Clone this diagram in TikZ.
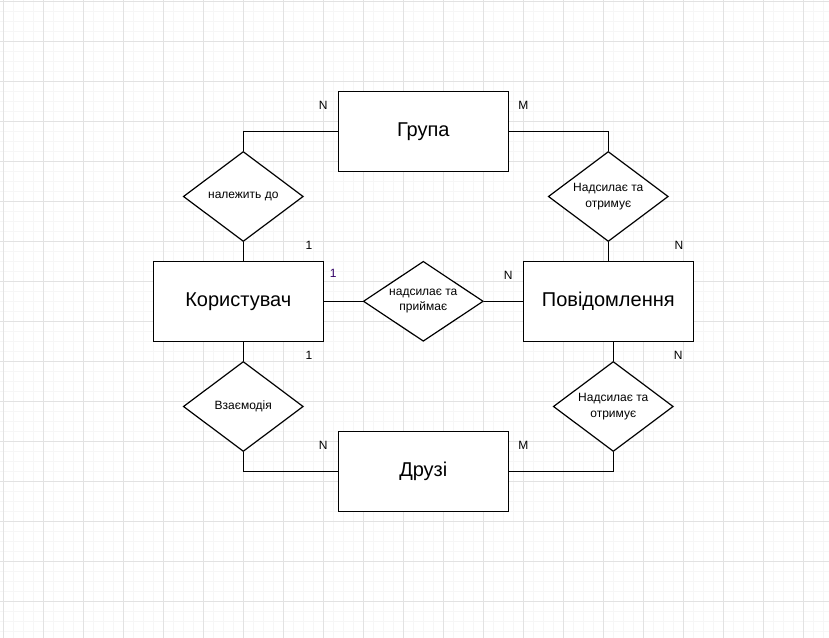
\documentclass[tikz,border=0pt]{standalone}
\usepackage{fontspec}
\setmainfont{Liberation Sans}
\usetikzlibrary{positioning,shapes,shapes.geometric}

\definecolor{minorgray}{HTML}{F6F6F6}
\definecolor{majorgray}{HTML}{E2E2E2}
\definecolor{onepurple}{HTML}{330066}

\tikzset{
  entity/.style={draw, line width=0.9pt, fill=white, minimum width=127.5pt, minimum height=60pt, inner sep=0pt, font=\fontsize{15}{18}\selectfont},
  relation/.style={draw, diamond, line width=0.9pt, fill=white, minimum width=90pt, minimum height=67.5pt, inner sep=0pt},
  reltext/.style={inner sep=0pt, align=center, font=\fontsize{9}{11.5}\selectfont},
  link/.style={line width=0.9pt},
  card/.style={inner sep=0pt, font=\fontsize{9}{11}\selectfont}
}

\begin{document}
\begin{tikzpicture}[x=0.75pt, y=-0.75pt]
\useasboundingbox (0,0) rectangle (829,638);
\fill[white] (0,0) rectangle (829,638);
% grid
\foreach \i in {0,...,82} \draw[minorgray, line width=0.75pt] ({3.3+10*\i},0) -- ({3.3+10*\i},638);
\foreach \i in {0,...,63} \draw[minorgray, line width=0.75pt] (0,{1.7+10*\i}) -- (829,{1.7+10*\i});
\foreach \i in {0,...,20} \draw[majorgray, line width=0.75pt] ({3.3+40*\i},0) -- ({3.3+40*\i},638);
\foreach \i in {0,...,15} \draw[majorgray, line width=0.75pt] (0,{1.7+40*\i}) -- (829,{1.7+40*\i});

% entities
\node[entity] (grupa) at (423.3,131.3) {Група};
\node[entity] (korystuvach) at (238.3,301.3) {Користувач};
\node[entity] (povidomlennia) at (608.3,301.3) {Повідомлення};
\node[entity] (druzi) at (423.3,471.3) {Друзі};

% relations
\node[relation, label={[reltext]center:належить до}] (nalezhyt) at (243.3,196.5) {};
\node[relation, minimum height=60pt, label={[reltext]center:надсилає та\\приймає}] (nadsylaie) at (423.3,301.3) {};
\node[relation, label={[reltext]center:Надсилає та\\отримує}] (otrymuieTop) at (608.3,196.5) {};
\node[relation, label={[reltext]center:Надсилає та\\отримує}] (otrymuieBot) at (613.3,406.5) {};
\node[relation, label={[reltext]center:Взаємодія}] (vzaiemodiia) at (243.3,406.5) {};

% links
\draw[link] (grupa.west) -| (nalezhyt.north);
\draw[link] (nalezhyt.south) -- (nalezhyt.south |- korystuvach.north);
\draw[link] (grupa.east) -| (otrymuieTop.north);
\draw[link] (otrymuieTop.south) -- (povidomlennia.north);
\draw[link] (korystuvach.east) -- (nadsylaie.west);
\draw[link] (nadsylaie.east) -- (povidomlennia.west);
\draw[link] (vzaiemodiia.north |- korystuvach.south) -- (vzaiemodiia.north);
\draw[link] (vzaiemodiia.south) |- (druzi.west);
\draw[link] (otrymuieBot.north |- povidomlennia.south) -- (otrymuieBot.north);
\draw[link] (otrymuieBot.south) |- (druzi.east);

% cardinalities
\node[card] (cGrupaN) at (323.3,105.7) {N};
\node[card] (cGrupaM) at (523.3,105.7) {M};
\node[card] (cKorTop) at (309,245.7) {1};
\node[card, text=onepurple] (cKorRight) at (333.3,273.3) {1};
\node[card] (cPovLeft) at (508.3,275) {N};
\node[card] (cPovTop) at (679,245.7) {N};
\node[card] (cKorBot) at (309,355.7) {1};
\node[card] (cPovBot) at (678.3,355.7) {N};
\node[card] (cDruziN) at (323.3,445.7) {N};
\node[card] (cDruziM) at (523.3,445.7) {M};
\end{tikzpicture}
\end{document}
